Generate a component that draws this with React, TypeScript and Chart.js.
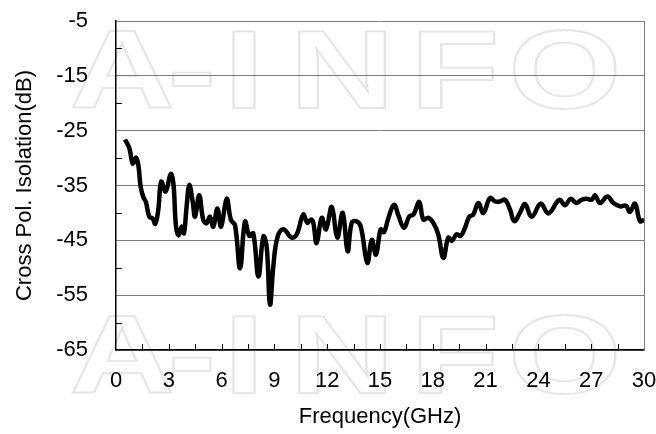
import React, { useEffect, useRef } from "react";
import { Chart, registerables } from "chart.js";

Chart.register(...registerables);

const freqGHz = [
  0.51, 0.76, 0.95, 1.14, 1.27, 1.4, 1.55, 1.7, 1.89, 2.08, 2.23, 2.4, 2.57, 2.82, 3.11, 3.26, 3.41, 3.56, 3.73, 3.86,
  4.01, 4.16, 4.36, 4.49, 4.73, 4.96, 5.15, 5.34, 5.53, 5.76, 5.97, 6.29, 6.53, 6.76, 7.05, 7.33, 7.58, 7.8, 8.09, 8.37,
  8.56, 8.75, 8.94, 9.17, 9.51, 9.98, 10.27, 10.64, 10.87, 11.08, 11.21, 11.4, 11.69, 11.93, 12.26, 12.57, 12.88, 13.16,
  13.39, 13.64, 13.9, 14.28, 14.53, 14.77, 15.04, 15.23, 15.47, 15.8, 16.04, 16.36, 16.67, 16.9, 17.23, 17.46, 17.75,
  18.03, 18.31, 18.6, 18.88, 19.07, 19.36, 19.58, 19.83, 20.07, 20.3, 20.59, 20.87, 21.25, 21.53, 21.82, 22.1, 22.39,
  22.63, 22.95, 23.24, 23.62, 24.13, 24.57, 25.19, 25.51, 25.84, 26.14, 26.46, 26.74, 27.03, 27.22, 27.5, 27.92, 28.26,
  28.64, 28.98, 29.2, 29.49, 29.77, 30.0,
];

const isolationDb = [
  -26.6, -28.2, -31.0, -29.9, -31.3, -35.2, -37.1, -38.0, -40.7, -41.0, -42.0, -39.5, -34.3, -36.1, -32.9, -34.6, -42.5,
  -44.1, -42.5, -43.7, -38.9, -34.9, -38.0, -40.7, -36.8, -41.3, -41.9, -40.7, -42.5, -39.2, -42.5, -37.4, -41.3, -42.2,
  -50.1, -41.6, -44.2, -43.7, -51.6, -44.3, -46.1, -56.7, -49.7, -44.5, -43.0, -44.5, -43.9, -40.3, -41.8, -41.2, -41.8,
  -45.5, -40.9, -43.0, -38.9, -44.5, -40.0, -47.0, -41.8, -41.5, -42.4, -49.1, -44.9, -47.6, -43.0, -43.5, -41.0, -38.5,
  -40.4, -42.7, -40.6, -40.3, -38.0, -41.2, -40.9, -41.8, -43.9, -48.2, -44.5, -45.1, -43.9, -44.2, -42.7, -40.7, -40.3,
  -38.2, -40.0, -37.3, -37.9, -37.9, -37.6, -39.4, -41.5, -40.0, -38.4, -40.7, -38.3, -40.1, -37.6, -38.6, -37.4, -38.2,
  -37.6, -37.4, -37.6, -36.8, -38.2, -37.0, -38.2, -38.8, -38.7, -39.8, -38.3, -41.5, -41.3,
];

const xMinorTicks = [1.5, 3, 4.5, 6, 7.5, 9, 10.5, 12, 13.5, 15, 16.5, 18, 19.5, 21, 22.5, 24, 25.5, 27, 28.5];
const yMinorTicks = [-10, -20, -30, -40, -50, -60];
const watermarkText = "A-INFO";
const xTitle = "Frequency(GHz)";
const yTitle = "Cross Pol. Isolation(dB)";

const FONT = "'Liberation Sans', Arial, sans-serif";

const watermarkPlugin = {
  id: "watermark",
  beforeDraw(chart: any) {
    const ctx = chart.ctx;
    const letters = watermarkText.split("");
    const centers = [122, 192, 244, 342, 455, 565];
    const baselines = [108, 393];
    ctx.save();
    ctx.font = `bold 112px ${FONT}`;
    ctx.strokeStyle = "#e6e6e6";
    ctx.lineWidth = 1.8;
    ctx.textAlign = "center";
    ctx.textBaseline = "alphabetic";
    baselines.forEach((b) => {
      letters.forEach((ch, i) => {
        ctx.save();
        ctx.translate(centers[i], b);
        ctx.scale(1.3, 1);
        ctx.strokeText(ch, 0, 0);
        ctx.restore();
      });
    });
    ctx.restore();
  },
};

const frameTicksPlugin = {
  id: "frameTicks",
  beforeDatasetsDraw(chart: any) {
    const ctx = chart.ctx;
    const { left, right, top, bottom } = chart.chartArea;
    const xs = chart.scales.x;
    const ys = chart.scales.y;
    ctx.save();
    ctx.strokeStyle = "#000";
    ctx.lineWidth = 1;
    xMinorTicks.forEach((v) => {
      const px = Math.round(xs.getPixelForValue(v)) + 0.5;
      ctx.beginPath();
      ctx.moveTo(px, bottom);
      ctx.lineTo(px, bottom - 6);
      ctx.stroke();
    });
    yMinorTicks.forEach((v) => {
      const py = Math.round(ys.getPixelForValue(v)) + 0.5;
      ctx.beginPath();
      ctx.moveTo(left, py);
      ctx.lineTo(left + 6, py);
      ctx.stroke();
    });
    ctx.strokeStyle = "#7a7a7a";
    ctx.beginPath();
    ctx.moveTo(Math.round(right) + 0.5, top);
    ctx.lineTo(Math.round(right) + 0.5, bottom);
    ctx.stroke();
    ctx.restore();
  },
};

export default function App() {
  const canvasRef = useRef<HTMLCanvasElement | null>(null);

  useEffect(() => {
    if (!canvasRef.current) return;
    const chart = new Chart(canvasRef.current, {
      type: "line",
      data: {
        datasets: [
          {
            data: freqGHz.map((f, i) => ({ x: f, y: isolationDb[i] })),
            borderColor: "#000",
            borderWidth: 4.5,
            pointRadius: 0,
            tension: 0.4,
            fill: false,
          },
        ],
      },
      options: {
        animation: false,
        responsive: false,
        maintainAspectRatio: false,
        layout: { padding: { left: 0, top: 21, right: 12, bottom: 0 } },
        plugins: { legend: { display: false }, tooltip: { enabled: false } },
        scales: {
          x: {
            type: "linear",
            min: 0,
            max: 30,
            afterFit: (s: any) => {
              s.height = 84;
              s.paddingLeft = 0;
              s.paddingRight = 0;
            },
            ticks: {
              stepSize: 3,
              padding: 18,
              color: "#000",
              font: { family: FONT, size: 22 },
              maxRotation: 0,
            },
            grid: { display: false, drawTicks: false },
            border: { display: true, color: "#000", width: 1.5 },
            title: {
              display: true,
              text: xTitle,
              color: "#000",
              font: { family: FONT, size: 22 },
              padding: { top: 0, bottom: 4 },
            },
          },
          y: {
            type: "linear",
            min: -65,
            max: -5,
            afterFit: (s: any) => {
              s.width = 116;
              s.paddingTop = 0;
              s.paddingBottom = 0;
            },
            ticks: {
              stepSize: 10,
              padding: 28,
              color: "#000",
              font: { family: FONT, size: 22 },
            },
            grid: { color: "#7a7a7a", lineWidth: 1, drawTicks: false },
            border: { display: true, color: "#000", width: 1.5 },
            title: {
              display: true,
              text: yTitle,
              color: "#000",
              font: { family: FONT, size: 22 },
              padding: { top: 12, bottom: 0 },
            },
          },
        },
      },
      plugins: [watermarkPlugin, frameTicksPlugin],
    });
    return () => chart.destroy();
  }, []);

  return (
    <div style={{ position: "fixed", left: 0, top: 0, width: 656, height: 434, background: "#fff" }}>
      <canvas ref={canvasRef} width={656} height={434} />
    </div>
  );
}
